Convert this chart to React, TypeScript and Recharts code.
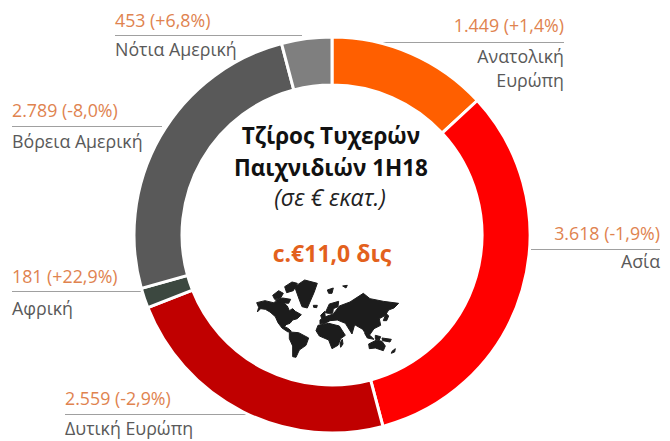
import { Cell, Pie, PieChart } from "recharts";

const regions = ["Ανατολική Ευρώπη", "Ασία", "Δυτική Ευρώπη", "Αφρική", "Βόρεια Αμερική", "Νότια Αμερική"];
const revenue = [1449, 3618, 2559, 181, 2789, 453];
const revenueLabels = ["1.449", "3.618", "2.559", "181", "2.789", "453"];
const changes = ["+1,4%", "-1,9%", "-2,9%", "+22,9%", "-8,0%", "+6,8%"];
const colors = ["#ff5f00", "#ff0000", "#c00000", "#3c4840", "#595959", "#7f7f7f"];

const chartData = regions.map((name, i) => ({ name, value: revenue[i] }));

const FONT = "'Open Sans', sans-serif";

// hand traced outline of the little world map, in 3x coordinates
const mapShapes = [
  // north america
  "M20 98 L45 92 L70 98 L84 92 L100 98 L112 108 L118 122 L128 116 L136 124 L154 134 L142 146 L128 150 L120 160 L108 164 L104 170 L116 176 L124 184 L114 186 L96 174 L84 158 L76 140 L60 126 L46 118 L32 116 L22 126 L26 112 Z",
  // arctic islands
  "M68 76 L86 62 L100 70 L92 84 L74 88 Z M104 50 L126 36 L142 40 L130 62 L110 68 Z M76 90 L98 84 L122 88 L116 100 L88 98 Z",
  // greenland
  "M134 50 L164 30 L202 40 L192 68 L172 114 L156 110 L146 84 Z",
  "M190 106 L202 106 L200 113 L191 112 Z",
  "M232 60 L250 54 L246 70 L236 70 Z M278 48 L292 46 L288 54 Z",
  // south america
  "M118 186 L146 188 L176 204 L168 226 L148 240 L138 262 L128 260 L128 228 L118 206 Z",
  // africa
  "M204 166 L236 160 L268 168 L286 196 L272 206 L264 226 L246 236 L236 210 L208 198 L198 182 Z",
  "M270 219 L277 208 L279 222 L272 232 Z",
  "M212 136 L224 124 L226 142 L216 148 Z",
  "M226 128 L238 102 L266 94 L264 110 L250 116 L248 130 L234 130 Z",
  // eurasia
  "M210 150 L232 138 L250 132 L268 108 L300 96 L340 70 L360 86 L400 94 L446 100 L432 114 L416 120 L406 136 L388 146 L392 166 L372 176 L354 202 L338 178 L314 164 L306 192 L286 160 L262 150 L240 152 L226 160 L210 162 Z",
  "M408 130 L416 138 L410 152 L400 152 Z",
  "M344 190 L362 198 L372 208 L352 204 Z M376 196 L392 200 L388 210 L376 208 Z M396 204 L424 208 L420 216 L398 212 Z",
  // australia
  "M356 222 L380 210 L396 214 L406 228 L400 242 L376 234 L358 236 Z",
  "M426 244 L436 236 L434 246 L424 250 Z",
];

function Callout({ index, x, lineTo, valueY, lineY, nameLines, align = "start" }: {
  index: number;
  x: number;
  lineTo: number;
  valueY: number;
  lineY: number;
  nameLines: { text: string; y: number }[];
  align?: "start" | "end";
}) {
  return (
    <g fontFamily={FONT} fontSize={17.8} textAnchor={align}>
      <text x={x} y={valueY} fill="#e0834f">
        {`${revenueLabels[index]} (${changes[index]})`}
      </text>
      <line x1={x} x2={lineTo} y1={lineY} y2={lineY} stroke="#a0a0a0" strokeWidth={1} />
      {nameLines.map((l) => (
        <text key={l.text} x={x} y={l.y} fill="#595959">
          {l.text}
        </text>
      ))}
    </g>
  );
}

export default function App() {
  return (
    <div style={{ position: "absolute", left: 0, top: 0, width: 670, height: 441, background: "#fff" }}>
      <PieChart width={670} height={441} margin={{ top: 0, right: 0, bottom: 0, left: 0 }}>
        <Pie
          data={chartData}
          dataKey="value"
          nameKey="name"
          cx={332}
          cy={235}
          innerRadius={150}
          outerRadius={198}
          startAngle={90}
          endAngle={-270}
          stroke="#ffffff"
          strokeWidth={3}
          isAnimationActive={false}
        >
          {chartData.map((d, i) => (
            <Cell key={d.name} fill={colors[i]} />
          ))}
        </Pie>

        <Callout index={5} x={115} lineTo={302} valueY={27} lineY={35.5} nameLines={[{ text: "Νότια Αμερική", y: 56 }]} />
        <Callout index={4} x={12} lineTo={162} valueY={117} lineY={126.5} nameLines={[{ text: "Βόρεια Αμερική", y: 148 }]} />
        <Callout index={3} x={12} lineTo={145} valueY={283} lineY={291.5} nameLines={[{ text: "Αφρική", y: 315 }]} />
        <Callout index={2} x={65} lineTo={258} valueY={405} lineY={414.5} nameLines={[{ text: "Δυτική Ευρώπη", y: 435 }]} />
        <Callout
          index={0}
          x={564}
          lineTo={372}
          valueY={32}
          lineY={42.5}
          align="end"
          nameLines={[
            { text: "Ανατολική", y: 63 },
            { text: "Ευρώπη", y: 87 },
          ]}
        />
        <Callout index={1} x={660} lineTo={512} valueY={240} lineY={249.5} align="end" nameLines={[{ text: "Ασία", y: 268 }]} />

        <g fontFamily={FONT} textAnchor="middle">
          <text x={331} y={144} fontSize={22.5} fontWeight={700} fill="#111">Τζίρος Τυχερών</text>
          <text x={331} y={176} fontSize={22.5} fontWeight={700} fill="#111">Παιχνιδιών 1H18</text>
          <text x={330} y={206} fontSize={23} fontStyle="italic" fill="#222">(σε € εκατ.)</text>
          <text x={332} y={262} fontSize={23} fontWeight={700} fill="#e3611d">c.€11,0 δις</text>
        </g>

        <g transform="translate(250 270) scale(0.3333)" fill="#1c1c1c" stroke="#1c1c1c" strokeWidth={3} strokeLinejoin="round">
          {mapShapes.map((d) => (
            <path key={d} d={d} />
          ))}
        </g>
      </PieChart>
    </div>
  );
}
